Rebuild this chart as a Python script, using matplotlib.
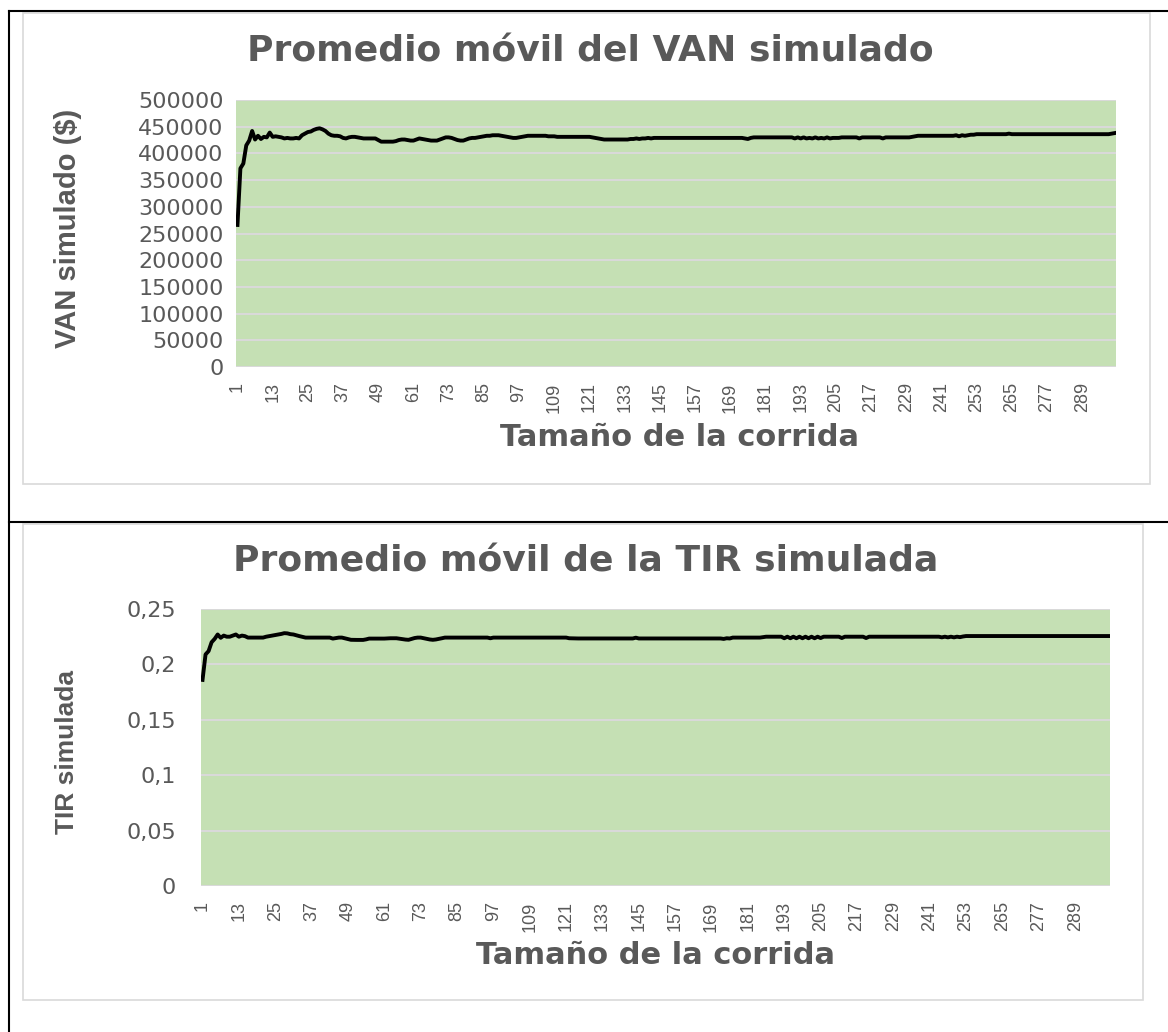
import matplotlib
matplotlib.use("Agg")
import matplotlib.pyplot as plt
from matplotlib.lines import Line2D
from matplotlib.patches import Rectangle

W, H = 1168, 1032

# moving average of simulated NPV, one value per run size 1..300
van = [
    266000, 372000, 381000, 415000, 424000, 442000, 426000, 433000, 427000, 431000,
    430000, 439000, 431000, 432000, 431000, 430000, 428000, 429000, 428000, 428000,
    429000, 428000, 434000, 437000, 440000, 441000, 444000, 446000, 447000, 445000,
    442000, 437000, 434000, 433000, 433000, 432000, 429000, 428000, 430000, 431000,
    431000, 430000, 429000, 428000, 428000, 428000, 428000, 428000, 425000, 422000,
    422000, 422000, 422000, 422000, 423000, 425000, 426000, 426000, 425000, 424000,
    424000, 426000, 428000, 427000, 426000, 425000, 424000, 424000, 424000, 426000,
    428000, 430000, 430000, 429000, 427000, 425000, 424000, 424000, 426000, 428000,
    429000, 429000, 430000, 431000, 432000, 433000, 433000, 434000, 434000, 434000,
    433000, 432000, 431000, 430000, 429000, 429000, 430000, 431000, 432000, 433000,
    433000, 433000, 433000, 433000, 433000, 433000, 432000, 432000, 432000, 431000,
    431000, 431000, 431000, 431000, 431000, 431000, 431000, 431000, 431000, 431000,
    431000, 430000, 429000, 428000, 427000, 426000, 426000, 426000, 426000, 426000,
    426000, 426000, 426000, 426000, 427000, 427000, 428000, 427000, 428000, 428000,
    429000, 428000, 429000, 429000, 429000, 429000, 429000, 429000, 429000, 429000,
    429000, 429000, 429000, 429000, 429000, 429000, 429000, 429000, 429000, 429000,
    429000, 429000, 429000, 429000, 429000, 429000, 429000, 429000, 429000, 429000,
    429000, 429000, 429000, 428000, 427000, 429000, 430000, 430000, 430000, 430000,
    430000, 430000, 430000, 430000, 430000, 430000, 430000, 430000, 430000, 430000,
    428000, 430000, 428000, 430000, 428000, 429000, 428000, 430000, 428000, 429000,
    428000, 430000, 428000, 429000, 429000, 429000, 430000, 430000, 430000, 430000,
    430000, 430000, 428000, 430000, 430000, 430000, 430000, 430000, 430000, 430000,
    428000, 430000, 430000, 430000, 430000, 430000, 430000, 430000, 430000, 430000,
    431000, 432000, 433000, 433000, 433000, 433000, 433000, 433000, 433000, 433000,
    433000, 433000, 433000, 433000, 433000, 434000, 432000, 434000, 433000, 434000,
    435000, 435000, 436000, 436000, 436000, 436000, 436000, 436000, 436000, 436000,
    436000, 436000, 436000, 437000, 436000, 436000, 436000, 436000, 436000, 436000,
    436000, 436000, 436000, 436000, 436000, 436000, 436000, 436000, 436000, 436000,
    436000, 436000, 436000, 436000, 436000, 436000, 436000, 436000, 436000, 436000,
    436000, 436000, 436000, 436000, 436000, 436000, 436000, 436000, 437000, 438000,
]

# moving average of simulated IRR
tir = [
    0.1860, 0.2090, 0.2120, 0.2200, 0.2230, 0.2270, 0.2240, 0.2260, 0.2250, 0.2250,
    0.2260, 0.2270, 0.2250, 0.2260, 0.2255, 0.2242, 0.2242, 0.2242, 0.2242, 0.2242,
    0.2242, 0.2250, 0.2255, 0.2260, 0.2264, 0.2270, 0.2275, 0.2282, 0.2280, 0.2273,
    0.2270, 0.2262, 0.2255, 0.2248, 0.2242, 0.2242, 0.2242, 0.2242, 0.2242, 0.2242,
    0.2242, 0.2242, 0.2242, 0.2233, 0.2238, 0.2242, 0.2242, 0.2235, 0.2228, 0.2222,
    0.2221, 0.2221, 0.2221, 0.2221, 0.2226, 0.2233, 0.2233, 0.2233, 0.2233, 0.2233,
    0.2233, 0.2235, 0.2236, 0.2236, 0.2236, 0.2232, 0.2228, 0.2224, 0.2222, 0.2230,
    0.2238, 0.2242, 0.2242, 0.2236, 0.2230, 0.2225, 0.2222, 0.2225, 0.2230, 0.2236,
    0.2242, 0.2242, 0.2242, 0.2242, 0.2242, 0.2242, 0.2242, 0.2242, 0.2242, 0.2242,
    0.2242, 0.2242, 0.2242, 0.2242, 0.2242, 0.2236, 0.2242, 0.2242, 0.2242, 0.2242,
    0.2242, 0.2242, 0.2242, 0.2242, 0.2242, 0.2242, 0.2242, 0.2242, 0.2242, 0.2242,
    0.2242, 0.2242, 0.2242, 0.2242, 0.2242, 0.2242, 0.2242, 0.2242, 0.2242, 0.2242,
    0.2242, 0.2236, 0.2235, 0.2234, 0.2234, 0.2234, 0.2234, 0.2234, 0.2234, 0.2234,
    0.2234, 0.2234, 0.2234, 0.2234, 0.2234, 0.2234, 0.2234, 0.2234, 0.2234, 0.2234,
    0.2234, 0.2234, 0.2234, 0.2241, 0.2234, 0.2234, 0.2234, 0.2234, 0.2234, 0.2234,
    0.2234, 0.2234, 0.2234, 0.2234, 0.2234, 0.2234, 0.2234, 0.2234, 0.2234, 0.2234,
    0.2234, 0.2234, 0.2234, 0.2234, 0.2234, 0.2234, 0.2234, 0.2234, 0.2234, 0.2234,
    0.2234, 0.2234, 0.2230, 0.2236, 0.2234, 0.2242, 0.2242, 0.2242, 0.2242, 0.2242,
    0.2242, 0.2242, 0.2242, 0.2242, 0.2242, 0.2246, 0.2250, 0.2250, 0.2250, 0.2250,
    0.2250, 0.2250, 0.2236, 0.2250, 0.2236, 0.2250, 0.2236, 0.2250, 0.2236, 0.2250,
    0.2236, 0.2250, 0.2236, 0.2250, 0.2238, 0.2250, 0.2250, 0.2250, 0.2250, 0.2250,
    0.2250, 0.2238, 0.2250, 0.2250, 0.2250, 0.2250, 0.2250, 0.2250, 0.2250, 0.2238,
    0.2250, 0.2250, 0.2250, 0.2250, 0.2250, 0.2250, 0.2250, 0.2250, 0.2250, 0.2250,
    0.2250, 0.2250, 0.2250, 0.2250, 0.2250, 0.2250, 0.2250, 0.2250, 0.2250, 0.2250,
    0.2250, 0.2250, 0.2250, 0.2250, 0.2244, 0.2250, 0.2244, 0.2250, 0.2244, 0.2250,
    0.2246, 0.2252, 0.2256, 0.2256, 0.2256, 0.2256, 0.2256, 0.2256, 0.2256, 0.2256,
    0.2256, 0.2256, 0.2256, 0.2256, 0.2256, 0.2256, 0.2256, 0.2256, 0.2256, 0.2256,
    0.2256, 0.2256, 0.2256, 0.2256, 0.2256, 0.2256, 0.2256, 0.2256, 0.2256, 0.2256,
    0.2256, 0.2256, 0.2256, 0.2256, 0.2256, 0.2256, 0.2256, 0.2256, 0.2256, 0.2256,
    0.2256, 0.2256, 0.2256, 0.2256, 0.2256, 0.2256, 0.2256, 0.2256, 0.2256, 0.2256,
]

runs = list(range(1, len(van) + 1))
x_ticks = list(range(1, 300, 12))

van_ticks = [0, 50000, 100000, 150000, 200000, 250000, 300000, 350000, 400000, 450000, 500000]
van_labels = [str(v) for v in van_ticks]
tir_ticks = [0, 0.05, 0.1, 0.15, 0.2, 0.25]
tir_labels = ["0", "0,05", "0,1", "0,15", "0,2", "0,25"]

GRAY = "#595959"
GREEN = "#C5E0B4"
GRID = "#D9D9D9"
WIDE = ["DejaVu Sans"]
NARROW = ["Liberation Sans", "DejaVu Sans"]


def fx(x):
    return x / W


def fy(y):
    return 1 - y / H


fig = plt.figure(figsize=(W / 100, H / 100), dpi=100)

# table lines of the document
for xs, ys in [((9, 9), (11, H)), ((9, W), (11, 11)), ((9, W), (522, 522))]:
    fig.add_artist(Line2D([fx(v) for v in xs], [fy(v) for v in ys], color="black", lw=1.5))

# chart frames
for (x0, y0, x1, y1) in [(23, 13, 1150, 484), (23, 524, 1143, 1000)]:
    fig.add_artist(Rectangle((fx(x0), fy(y1)), fx(x1 - x0), (y1 - y0) / H,
                             fill=False, edgecolor=GRID, lw=1.2))


def setup(ax, yticks, ylabels, ymax, pad):
    ax.set_facecolor(GREEN)
    for s in ax.spines.values():
        s.set_visible(False)
    ax.set_xlim(0.5, 300.5)
    ax.set_ylim(0, ymax)
    ax.set_yticks(yticks)
    ax.set_yticklabels(ylabels, family=WIDE, fontsize=16, color=GRAY)
    ax.set_xticks(x_ticks)
    ax.set_xticklabels([str(t) for t in x_ticks], rotation=90, family=NARROW,
                       fontsize=13, color=GRAY, va="top")
    ax.tick_params(length=0)
    ax.tick_params(axis="y", pad=pad)
    ax.tick_params(axis="x", pad=11)
    ax.yaxis.grid(True, color=GRID, lw=1.5)
    ax.set_axisbelow(True)


ax1 = fig.add_axes([fx(236), fy(367), (1116 - 236) / W, (367 - 100) / H])
setup(ax1, van_ticks, van_labels, 500000, 9)
ax1.plot(runs, van, color="black", lw=2.8)

ax2 = fig.add_axes([fx(201), fy(886), (1110 - 201) / W, (886 - 609) / H])
setup(ax2, tir_ticks, tir_labels, 0.25, 18)
ax2.plot(runs, tir, color="black", lw=2.8)

# titles and axis labels
fig.text(fx(590), fy(52), "Promedio móvil del VAN simulado", family=WIDE, weight="bold",
         fontsize=26, color=GRAY, ha="center", va="center")
fig.text(fx(680), fy(438), "Tamaño de la corrida", family=WIDE, weight="bold",
         fontsize=22, color=GRAY, ha="center", va="center")
fig.text(fx(68), fy(228), "VAN simulado ($)", family=NARROW, weight="bold",
         fontsize=21, color=GRAY, ha="center", va="center", rotation=90)

fig.text(fx(586), fy(562), "Promedio móvil de la TIR simulada", family=WIDE, weight="bold",
         fontsize=26, color=GRAY, ha="center", va="center")
fig.text(fx(656), fy(955), "Tamaño de la corrida", family=WIDE, weight="bold",
         fontsize=22, color=GRAY, ha="center", va="center")
fig.text(fx(67), fy(752), "TIR simulada", family=NARROW, weight="bold",
         fontsize=19, color=GRAY, ha="center", va="center", rotation=90)

fig.savefig("out.png", dpi=100)
